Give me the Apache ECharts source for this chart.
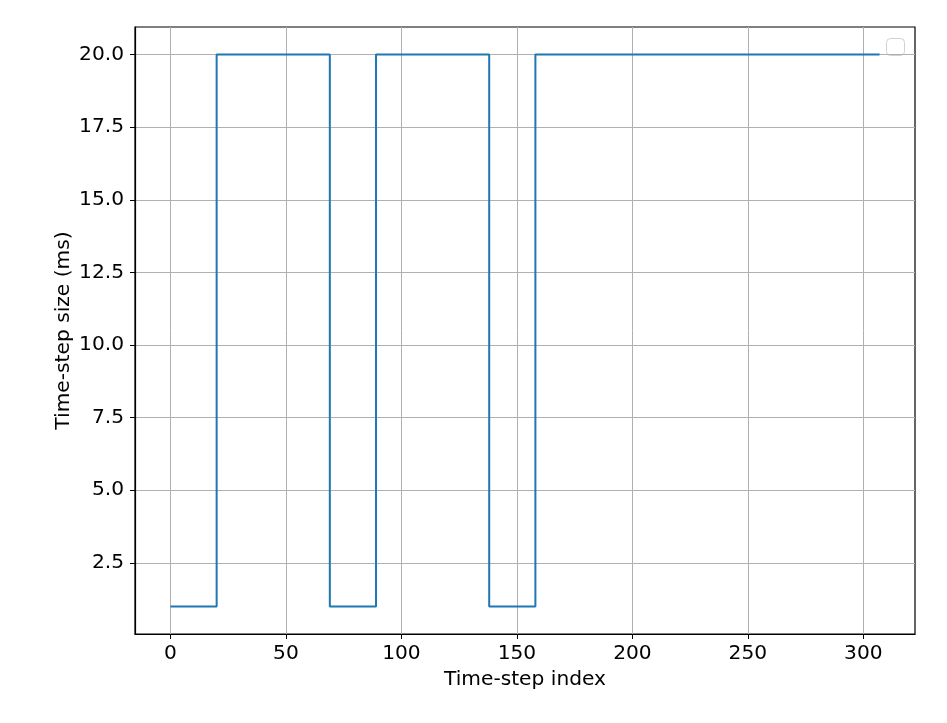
<!DOCTYPE html>
<html>
<head>
<meta charset="utf-8">
<script src="https://cdn.jsdelivr.net/npm/echarts@6/dist/echarts.min.js"></script>
<style>html,body{margin:0;padding:0;background:#fff}#c{width:947px;height:723px}</style>
</head>
<body>
<div id="c"></div>
<script>
// Step change points (time-step index) and the time-step size holding from each point
const stepIndex = [0, 20, 69, 89, 138, 158, 307];
const stepSize  = [1, 20, 1, 20, 1, 20, 20];
const xTicks = [0, 50, 100, 150, 200, 250, 300];
const yTicks = [2.5, 5.0, 7.5, 10.0, 12.5, 15.0, 17.5, 20.0];

const data = stepIndex.map((x, i) => [x, stepSize[i]]);
const font = 'DejaVu Sans';
const fs = 20.2;

const chart = echarts.init(document.getElementById('c'), null, {renderer: 'canvas'});
chart.setOption({
  animation: false,
  backgroundColor: '#fff',
  grid: {left: 135, right: 32, top: 27, bottom: 89, containLabel: false,
         show: true, borderColor: '#000', borderWidth: 1.2},
  xAxis: {
    type: 'value', min: -15.35, max: 322.35,
    name: 'Time-step index', nameLocation: 'middle', nameGap: 36, nameMoveOverlap: false,
    nameTextStyle: {fontFamily: font, fontSize: fs, color: '#000'},
    axisLine: {show: true, onZero: false, lineStyle: {color: '#000', width: 1.2}},
    axisTick: {show: true, inside: false, length: 5, customValues: xTicks, lineStyle: {color: '#000', width: 1}},
    axisLabel: {customValues: xTicks, margin: 10, fontFamily: font, fontSize: fs, color: '#000',
                formatter: v => String(v)},
    splitLine: {show: true, lineStyle: {color: '#b0b0b0', width: 1}}
  },
  yAxis: {
    type: 'value', min: 0.05, max: 20.95,
    name: 'Time-step size (ms)', nameLocation: 'middle', nameGap: 61, nameRotate: 90, nameMoveOverlap: false,
    nameTextStyle: {fontFamily: font, fontSize: fs, color: '#000'},
    axisLine: {show: true, onZero: false, lineStyle: {color: '#000', width: 1.2}},
    axisTick: {show: true, inside: false, length: 5, customValues: yTicks, lineStyle: {color: '#000', width: 1}},
    axisLabel: {customValues: yTicks, margin: 11, fontFamily: font, fontSize: fs, color: '#000',
                formatter: v => v.toFixed(1)},
    splitLine: {show: true, lineStyle: {color: '#b0b0b0', width: 1}}
  },
  series: [{
    type: 'line', step: 'end', data: data, showSymbol: false, symbol: 'none',
    lineStyle: {color: '#1f77b4', width: 2}
  }],
  graphic: [{
    type: 'rect', right: 42, top: 38,
    shape: {width: 18, height: 17, r: 4},
    style: {fill: 'rgba(255,255,255,0.8)', stroke: '#d0d0d0', lineWidth: 1}
  }]
});
</script>
</body>
</html>
